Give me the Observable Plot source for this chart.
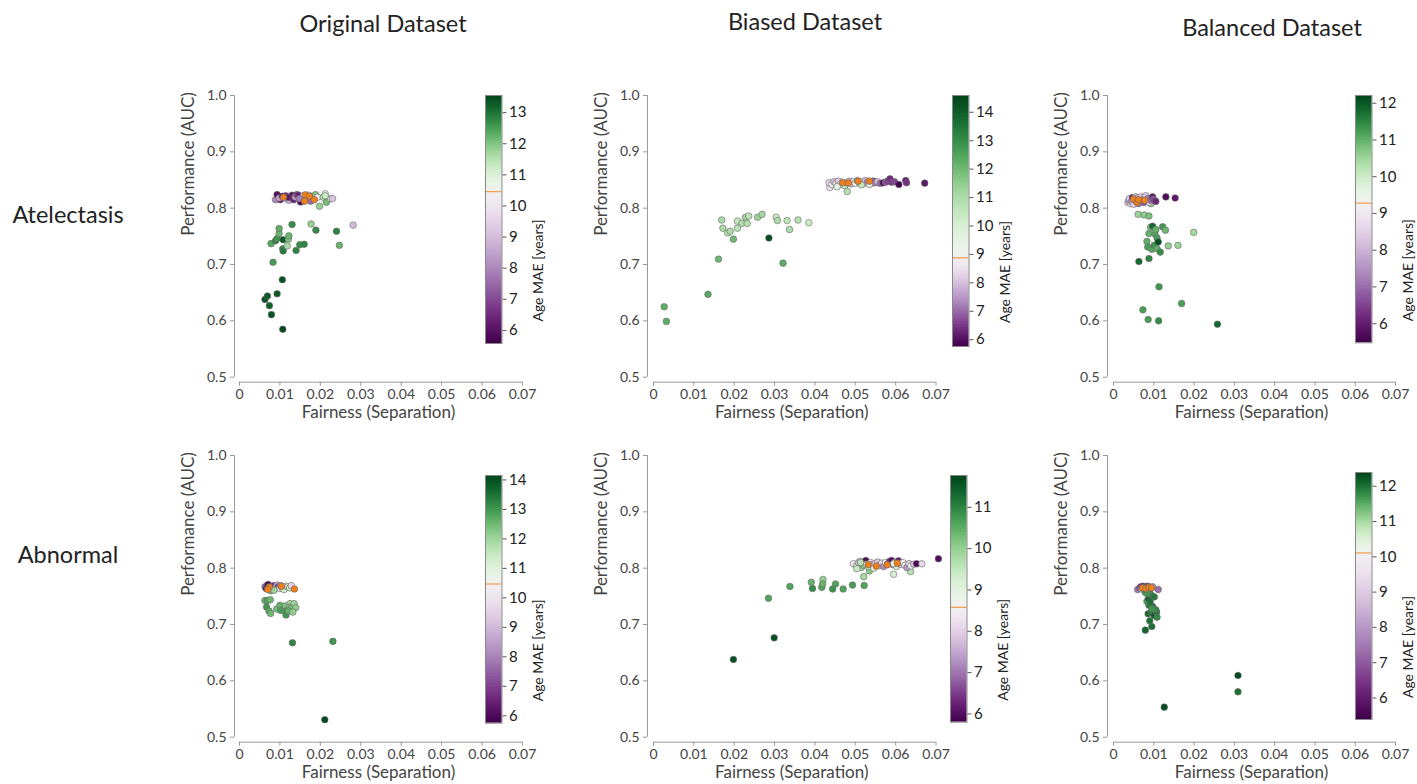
<!DOCTYPE html>
<html><head><meta charset="utf-8">
<script src="https://cdn.jsdelivr.net/npm/d3@7"></script>
<script src="https://cdn.jsdelivr.net/npm/@observablehq/plot@0.6"></script>
<style>
html,body{margin:0;padding:0;background:#fff;overflow:hidden;font-family:Lato,"Open Sans",sans-serif}
#root{position:relative;width:1417px;height:784px;overflow:hidden}
.abs{position:absolute}
.lbl{position:absolute;font-size:23.5px;color:#222;transform:translate(-50%,-50%);white-space:nowrap}
</style></head><body><div id="root"></div>
<script>
// ---------------- DATA ----------------
const columnTitles = ["Original Dataset", "Biased Dataset", "Balanced Dataset"];
const rowTitles = ["Atelectasis", "Abnormal"];
const fairTicks = [0, 0.01, 0.02, 0.03, 0.04, 0.05, 0.06, 0.07];
const aucTicks = [0.5, 0.6, 0.7, 0.8, 0.9, 1.0];

// [fairness, AUC, age MAE]
const atelOrigPoints = [
  [0.0063,0.638,13.4],[0.0069,0.644,13.3],[0.0074,0.627,13.2],[0.0079,0.611,13.4],[0.0093,0.648,13.3],[0.0106,0.673,13.4],[0.0107,0.585,13.5],
  [0.0083,0.704,12.5],[0.0078,0.737,12.4],[0.0089,0.742,12.8],[0.0093,0.746,12.6],[0.0098,0.755,12.2],[0.0098,0.764,12.3],[0.0108,0.744,13.3],
  [0.0107,0.728,12.7],[0.0108,0.724,12.9],[0.0118,0.733,11.6],[0.0121,0.745,12.0],[0.0122,0.751,12.2],[0.0130,0.771,12.7],[0.0140,0.725,12.8],
  [0.0149,0.735,12.7],[0.0160,0.736,12.8],[0.0177,0.772,11.8],[0.0189,0.761,12.7],[0.0240,0.759,12.8],[0.0247,0.734,12.2],[0.0281,0.770,9.0],
  [0.0089,0.815,8.0],[0.0093,0.824,5.9],[0.0101,0.815,6.2],[0.0098,0.818,8.5],[0.0106,0.821,6.0],[0.0114,0.822,6.5],[0.0118,0.816,9.0],
  [0.0122,0.814,8.8],[0.0126,0.820,5.9],[0.0130,0.823,6.0],[0.0134,0.815,6.3],[0.0138,0.820,8.5],[0.0142,0.824,6.8],[0.0146,0.823,6.2],
  [0.0151,0.811,5.8],[0.0155,0.818,6.4],[0.0158,0.822,9.3],[0.0165,0.819,7.0],[0.0169,0.816,9.6],[0.0172,0.823,10.2],[0.0178,0.820,11.3],
  [0.0181,0.815,9.8],[0.0188,0.824,12.0],[0.0193,0.8195,10.3],[0.0198,0.8035,11.8],[0.0207,0.8195,11.6],[0.0212,0.8255,10.8],[0.0215,0.8106,12.1],
  [0.0225,0.8167,11.4],[0.0212,0.822,11.2],[0.0230,0.817,9.2],[0.0176,0.8125,7.5],[0.0148,0.817,7.8],[0.0120,0.819,6.1]
];
const atelOrigRefs = [[0.0109,0.8195],[0.0163,0.8237],[0.0173,0.8213],[0.0161,0.8124],[0.0185,0.8149]];
const atelOrigMae = [5.58, 10.46, 13.55]; // [min, reference, max]
const atelOrigMaeTicks = [6, 7, 8, 9, 10, 11, 12, 13];

const atelBiasPoints = [
  [0.00265,0.625,12.3],[0.0032,0.599,12.3],[0.0135,0.647,12.4],[0.0161,0.7095,12.0],[0.0169,0.779,11.0],[0.0172,0.7645,11.0],[0.0184,0.756,10.8],
  [0.0190,0.759,11.0],[0.0198,0.745,12.0],[0.0208,0.7645,10.7],[0.0208,0.777,10.5],[0.0219,0.773,10.9],[0.0228,0.784,11.2],[0.0232,0.773,10.8],
  [0.0236,0.786,10.6],[0.0258,0.784,11.3],[0.0269,0.789,11.1],[0.0286,0.747,14.4],[0.0304,0.784,10.2],[0.0307,0.778,11.0],[0.0321,0.7024,12.3],
  [0.0331,0.778,10.6],[0.0337,0.762,11.0],[0.0358,0.779,10.8],[0.0385,0.774,10.3],
  [0.0437,0.8367,8.6],[0.0435,0.845,8.3],[0.0442,0.842,8.8],[0.0447,0.847,8.0],[0.0452,0.844,8.5],[0.0458,0.848,8.2],[0.0462,0.842,9.0],
  [0.0468,0.846,8.4],[0.0474,0.840,10.3],[0.0480,0.8296,10.8],[0.0478,0.845,9.8],[0.0485,0.848,8.1],[0.0490,0.843,7.9],[0.0495,0.847,8.6],
  [0.0500,0.844,9.2],[0.0505,0.849,7.6],[0.0510,0.845,8.3],[0.0515,0.847,10.0],[0.0520,0.843,8.8],[0.0525,0.849,8.0],[0.0530,0.846,7.3],
  [0.0540,0.844,8.7],[0.0545,0.848,6.8],[0.0550,0.845,7.1],[0.0555,0.847,8.0],[0.0562,0.844,7.0],[0.0569,0.845,5.9],[0.0575,0.846,6.8],
  [0.0580,0.848,6.6],[0.0586,0.852,6.3],[0.0590,0.846,6.5],[0.0597,0.847,6.6],[0.0608,0.842,5.8],[0.0625,0.849,6.2],[0.0627,0.845,6.4],
  [0.0672,0.8444,6.1],[0.0455,0.838,9.5],[0.0515,0.8415,10.5],[0.0535,0.842,9.6]
];
const atelBiasRefs = [[0.0469,0.845],[0.0483,0.845],[0.0507,0.848],[0.0535,0.848]];
const atelBiasMae = [5.76, 8.88, 14.59];
const atelBiasMaeTicks = [6, 7, 8, 9, 10, 11, 12, 13, 14];

const atelBalPoints = [
  [0.0063,0.7053,11.8],[0.0073,0.6195,11.2],[0.0086,0.6024,11.2],[0.0112,0.600,11.4],[0.0113,0.6604,11.3],[0.0169,0.6308,11.2],[0.0258,0.594,11.8],
  [0.0088,0.7106,11.5],[0.0083,0.741,11.0],[0.0085,0.731,11.2],[0.0088,0.755,11.0],[0.0092,0.766,10.8],[0.0097,0.768,11.8],[0.0095,0.727,11.1],
  [0.0101,0.734,11.3],[0.0103,0.754,11.1],[0.0108,0.747,11.2],[0.0111,0.740,12.1],[0.0108,0.728,11.0],[0.0116,0.722,11.4],[0.0122,0.767,11.3],
  [0.0129,0.761,10.9],[0.0136,0.733,10.6],[0.0160,0.734,10.5],[0.0199,0.757,10.4],[0.0061,0.789,10.5],[0.0076,0.788,10.6],[0.0088,0.786,10.8],
  [0.0093,0.808,10.5],[0.0105,0.762,11.0],
  [0.0036,0.810,8.3],[0.0038,0.814,7.8],[0.0040,0.817,8.6],[0.0043,0.808,8.8],[0.0045,0.812,7.5],[0.0047,0.819,6.2],[0.0050,0.807,8.5],
  [0.0052,0.815,7.0],[0.0055,0.820,8.2],[0.0057,0.812,6.0],[0.0060,0.818,8.7],[0.0062,0.808,7.3],[0.0065,0.816,6.4],[0.0068,0.820,8.4],
  [0.0070,0.812,8.9],[0.0073,0.815,7.6],[0.0075,0.810,6.8],[0.0078,0.819,8.1],[0.0080,0.822,8.3],[0.0083,0.813,6.5],[0.0086,0.817,7.2],
  [0.0089,0.810,8.6],[0.0092,0.814,7.0],[0.0097,0.820,5.8],[0.0099,0.816,6.6],[0.0105,0.812,6.1],[0.0130,0.820,5.7],[0.0153,0.818,5.9]
];
const atelBalRefs = [[0.0050,0.816],[0.0059,0.810],[0.0062,0.815],[0.0077,0.814]];
const atelBalMae = [5.48, 9.28, 12.21];
const atelBalMaeTicks = [6, 7, 8, 9, 10, 11, 12];

const abnOrigPoints = [
  [0.0211,0.531,14.1],[0.0131,0.6675,13.2],[0.0231,0.670,13.0],
  [0.0063,0.7426,12.6],[0.0069,0.7426,12.8],[0.0076,0.744,12.5],[0.0067,0.731,13.0],[0.0073,0.7237,12.7],[0.0077,0.7197,12.5],[0.0092,0.7275,12.4],
  [0.0100,0.734,12.6],[0.0102,0.725,12.9],[0.0115,0.717,13.0],[0.0114,0.733,12.3],[0.0118,0.725,12.8],[0.0125,0.737,11.9],[0.0124,0.731,12.2],
  [0.0128,0.729,12.4],[0.0135,0.737,12.0],[0.0139,0.730,12.2],[0.0121,0.724,12.6],[0.0132,0.722,12.1],
  [0.0063,0.767,8.0],[0.0066,0.764,6.0],[0.0068,0.769,6.4],[0.0071,0.771,5.9],[0.0073,0.767,6.2],[0.0075,0.763,12.2],[0.0078,0.760,12.5],
  [0.0080,0.768,6.8],[0.0083,0.765,7.3],[0.0086,0.769,6.6],[0.0090,0.766,7.8],[0.0093,0.770,8.8],[0.0096,0.767,7.0],[0.0099,0.764,9.5],
  [0.0102,0.769,8.3],[0.0106,0.765,10.2],[0.0110,0.762,11.3],[0.0115,0.768,10.0],[0.0120,0.767,11.0],[0.0124,0.765,11.5],[0.0128,0.769,9.6],
  [0.0085,0.761,12.0]
];
const abnOrigRefs = [[0.0074,0.7663],[0.0070,0.762],[0.0104,0.768],[0.0136,0.763]];
const abnOrigMae = [5.75, 10.47, 14.15];
const abnOrigMaeTicks = [6, 7, 8, 9, 10, 11, 12, 13, 14];

const abnBiasPoints = [
  [0.0198,0.638,11.6],[0.0299,0.6763,11.6],[0.0285,0.7467,10.6],[0.0338,0.7675,10.6],[0.0391,0.775,10.4],[0.0394,0.764,10.9],[0.0417,0.766,10.6],
  [0.0420,0.780,10.0],[0.0419,0.772,10.4],[0.0444,0.763,10.8],[0.0451,0.772,10.6],[0.0470,0.763,10.6],[0.0493,0.770,10.7],[0.0522,0.7692,10.6],
  [0.0521,0.785,9.8],[0.0535,0.795,10.1],[0.0595,0.789,9.2],[0.0637,0.794,9.6],
  [0.0495,0.8078,8.3],[0.0503,0.804,9.3],[0.0508,0.810,8.0],[0.0512,0.8119,7.9],[0.0515,0.801,9.8],[0.0520,0.8048,10.2],[0.0526,0.8136,6.0],
  [0.0528,0.807,8.7],[0.0533,0.803,9.5],[0.0538,0.810,8.2],[0.0542,0.806,7.5],[0.0546,0.800,9.0],[0.0550,0.808,8.4],[0.0555,0.811,7.8],
  [0.0560,0.805,9.6],[0.0565,0.809,8.0],[0.0570,0.803,7.2],[0.0575,0.810,8.8],[0.0580,0.807,6.8],[0.0585,0.812,6.5],[0.0590,0.8136,6.0],
  [0.0594,0.806,7.0],[0.0598,0.810,8.3],[0.0602,0.803,9.2],[0.0607,0.813,6.2],[0.0612,0.807,7.6],[0.0618,0.810,8.5],[0.0623,0.805,9.1],
  [0.0628,0.801,7.3],[0.0633,0.808,8.0],[0.0638,0.804,8.6],[0.0645,0.807,7.8],[0.0652,0.8078,5.9],[0.0665,0.8078,8.1],[0.0706,0.8167,6.0],
  [0.0504,0.799,9.4],[0.0513,0.810,9.6],[0.0595,0.808,8.9]
];
const abnBiasRefs = [[0.0532,0.8065],[0.0552,0.8036],[0.0579,0.806],[0.0604,0.8089]];
const abnBiasMae = [5.80, 8.58, 11.77];
const abnBiasMaeTicks = [6, 7, 8, 9, 10, 11];

const abnBalPoints = [
  [0.0126,0.5533,12.3],[0.0309,0.6095,12.3],[0.0309,0.5805,12.0],[0.0079,0.690,12.1],[0.0095,0.6964,12.0],[0.0090,0.7065,12.0],[0.0086,0.719,12.1],
  [0.0093,0.722,11.9],[0.0101,0.716,12.2],[0.0107,0.722,12.0],[0.0108,0.713,11.8],[0.0105,0.726,11.8],[0.0097,0.732,12.0],[0.0088,0.734,11.9],
  [0.0083,0.741,11.6],[0.0087,0.7456,12.2],[0.0093,0.7527,11.8],[0.0084,0.7544,11.7],[0.0079,0.757,11.6],[0.0101,0.749,11.9],[0.0091,0.740,12.0],
  [0.0096,0.728,11.7],
  [0.0060,0.762,7.5],[0.0065,0.765,7.0],[0.0068,0.767,6.6],[0.0070,0.763,8.4],[0.0073,0.768,6.0],[0.0076,0.766,6.8],[0.0078,0.762,11.8],
  [0.0080,0.767,6.3],[0.0083,0.764,7.2],[0.0085,0.768,6.5],[0.0088,0.761,11.6],[0.0090,0.766,7.0],[0.0093,0.764,11.9],[0.0097,0.767,8.0],
  [0.0111,0.762,7.3]
];
const abnBalRefs = [[0.0072,0.765],[0.0080,0.764],[0.0088,0.766],[0.0094,0.765]];
const abnBalMae = [5.39, 10.11, 12.39];
const abnBalMaeTicks = [6, 7, 8, 9, 10, 11, 12];

// ---------------- LAYOUT ----------------
const FONT = "Lato, 'Open Sans', sans-serif";
const ORANGE = "#f07f1a";
const cols = [
  {frameLeft: 234, inset: 5, xEnd: 522},
  {frameLeft: 647, inset: 6, xEnd: 935.5},
  {frameLeft: 1107, inset: 6, xEnd: 1395}
];
const rows = [{top: 95, axis: 381.7}, {top: 455, axis: 741.7}];
const panels = [
  {r:0,c:0, pts: atelOrigPoints, refs: atelOrigRefs, mae: atelOrigMae, ticks: atelOrigMaeTicks, cb:{x:485, y1:95, y2:343}},
  {r:0,c:1, pts: atelBiasPoints, refs: atelBiasRefs, mae: atelBiasMae, ticks: atelBiasMaeTicks, cb:{x:951.5, y1:95, y2:346}},
  {r:0,c:2, pts: atelBalPoints, refs: atelBalRefs, mae: atelBalMae, ticks: atelBalMaeTicks, cb:{x:1355, y1:95, y2:342.3}},
  {r:1,c:0, pts: abnOrigPoints, refs: abnOrigRefs, mae: abnOrigMae, ticks: abnOrigMaeTicks, cb:{x:485, y1:475, y2:722.7}},
  {r:1,c:1, pts: abnBiasPoints, refs: abnBiasRefs, mae: abnBiasMae, ticks: abnBiasMaeTicks, cb:{x:950, y1:475, y2:721.7}},
  {r:1,c:2, pts: abnBalPoints, refs: abnBalRefs, mae: abnBalMae, ticks: abnBalMaeTicks, cb:{x:1355, y1:472.3, y2:719.3}}
];
const titlePos = [[383, 23], [805, 21], [1272, 27]];
const rowPos = [[68, 214], [68, 554]];

const root = document.getElementById("root");
function place(el, left, top) {
  el.classList.add("abs");
  el.style.left = left + "px";
  el.style.top = top + "px";
  root.appendChild(el);
}

columnTitles.forEach((t, i) => {
  const d = document.createElement("div");
  d.className = "lbl"; d.textContent = t;
  d.style.left = titlePos[i][0] + "px"; d.style.top = titlePos[i][1] + "px";
  root.appendChild(d);
});
rowTitles.forEach((t, i) => {
  const d = document.createElement("div");
  d.className = "lbl"; d.textContent = t;
  d.style.left = rowPos[i][0] + "px"; d.style.top = rowPos[i][1] + "px";
  root.appendChild(d);
});

const ML = 72, MR = 16, MT = 12, MB = 46;
panels.forEach(p => {
  const col = cols[p.c], row = rows[p.r];
  const [vmin, pivot, vmax] = p.mae;
  const color = {type: "diverging", scheme: "PRGn", domain: [vmin, vmax], pivot, symmetric: false};
  const frameW = col.xEnd - col.frameLeft;
  const frameH = row.axis - row.top;
  const pts = p.pts.map(([fair, auc, mae]) => ({fair, auc, mae}));
  const refs = p.refs.map(([fair, auc]) => ({fair, auc}));
  const chart = Plot.plot({
    width: ML + frameW + MR, height: MT + frameH + MB,
    marginLeft: ML, marginRight: MR, marginTop: MT, marginBottom: MB,
    style: {fontFamily: FONT, fontSize: "14px", background: "transparent", overflow: "visible"},
    x: {domain: [0, 0.07], insetLeft: col.inset},
    y: {domain: [0.5, 1.0], insetBottom: 5},
    color,
    marks: [
      Plot.ruleX([0], {y1: 0.5, y2: 1.0, dx: -col.inset, stroke: "#999"}),
      Plot.ruleY([0.5], {x1: 0, x2: 0.07, dy: 5, stroke: "#999"}),
      Plot.axisX({ticks: fairTicks, tickSize: 4, tickPadding: 3, label: null, stroke: "#999", fill: "#444",
        tickFormat: d => d === 0 ? "0" : d3.format(".2f")(d)}),
      Plot.axisY({ticks: aucTicks, tickSize: 4, tickPadding: 4, label: null, stroke: "#999", fill: "#444",
        tickFormat: d3.format(".1f")}),
      Plot.text(["Performance (AUC)"], {text: d => d, frameAnchor: "left", rotate: -90, dx: -46, dy: -3, fontSize: 17, fill: "#444"}),
      Plot.text(["Fairness (Separation)"], {text: d => d, frameAnchor: "bottom", dy: 36, fontSize: 17, fill: "#444"}),
      Plot.dot(pts, {x: "fair", y: "auc", fill: "mae", r: 3.3, stroke: "#666", strokeWidth: 0.6}),
      Plot.dot(refs, {x: "fair", y: "auc", fill: ORANGE, r: 3.3, stroke: "#666", strokeWidth: 0.6})
    ]
  });
  place(chart, col.frameLeft - ML, row.top - MT);

  // vertical colour bar
  const barW = 16.5, cML = 2, cMR = 60, cMT = 10, cMB = 10;
  const n = 160, step = (vmax - vmin) / n;
  const bands = d3.range(n).map(i => vmin + i * step);
  const bar = Plot.plot({
    width: cML + barW + cMR, height: cMT + (p.cb.y2 - p.cb.y1) + cMB,
    marginLeft: cML, marginRight: cMR, marginTop: cMT, marginBottom: cMB,
    style: {fontFamily: FONT, fontSize: "15px", background: "transparent", overflow: "visible"},
    x: {domain: [0, 1], axis: null},
    y: {domain: [vmin, vmax]},
    color,
    marks: [
      Plot.rect(bands, {x1: 0, x2: 1, y1: d => d, y2: d => Math.min(vmax, d + step * 1.6), fill: d => d + step / 2}),
      Plot.ruleY([pivot], {stroke: "#f39a4c", strokeWidth: 1.2}),
      Plot.frame({stroke: "#888", strokeWidth: 1}),
      Plot.axisY({anchor: "right", ticks: p.ticks, tickSize: 4, tickPadding: 3, label: null, stroke: "#555", fill: "#222",
        tickFormat: d3.format("d")}),
      Plot.text(["Age MAE [years]"], {text: d => d, frameAnchor: "right", rotate: -90, dx: 37, fontSize: 14, fill: "#222"})
    ]
  });
  place(bar, p.cb.x - cML, p.cb.y1 - cMT);
});
</script>
</body></html>
